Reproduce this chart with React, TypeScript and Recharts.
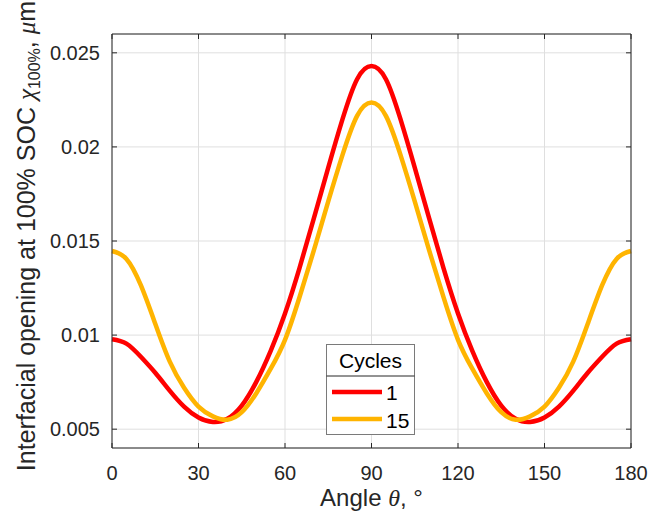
import React from 'react';
import { LineChart, Line, XAxis, YAxis, CartesianGrid, ReferenceLine } from 'recharts';

// Angle θ in degrees
const angles = [
  0, 5, 10, 15, 20, 25, 30, 35, 40, 45, 50, 55, 60, 65, 70, 75, 80, 85, 90,
  95, 100, 105, 110, 115, 120, 125, 130, 135, 140, 145, 150, 155, 160, 165, 170, 175, 180,
];

// Interfacial opening (μm) after 1 cycle
const cycle1 = [
  0.00978, 0.00955, 0.00885, 0.008, 0.00705, 0.0062, 0.00562, 0.00538, 0.00555, 0.00625,
  0.0075, 0.00915, 0.01115, 0.01355, 0.0162, 0.0189, 0.0215, 0.0236, 0.0243,
  0.0236, 0.0215, 0.0189, 0.0162, 0.01355, 0.01115, 0.00915, 0.0075, 0.00625, 0.00555,
  0.00538, 0.00562, 0.0062, 0.00705, 0.008, 0.00885, 0.00955, 0.00978,
];

// Interfacial opening (μm) after 15 cycles
const cycle15 = [
  0.01447, 0.01405, 0.01265, 0.0106, 0.0086, 0.0072, 0.0062, 0.00568, 0.0055, 0.0059,
  0.0069, 0.0082, 0.00975, 0.012, 0.0145, 0.0171, 0.0196, 0.02165, 0.02236,
  0.02165, 0.0196, 0.0171, 0.0145, 0.012, 0.00975, 0.0082, 0.0069, 0.0059, 0.0055,
  0.00568, 0.0062, 0.0072, 0.0086, 0.0106, 0.01265, 0.01405, 0.01447,
];

const xTicks = [0, 30, 60, 90, 120, 150, 180];
const yTicks = [0.005, 0.01, 0.015, 0.02, 0.025];
const xDomain = [0, 180];
const yDomain = [0.004, 0.026];

const seriesKeys = ['c1', 'c15'];
const seriesNames = ['1', '15'];
const seriesColors = ['#FF0000', '#FFB400'];
const legendTitle = 'Cycles';

const data = angles.map((a, i) => ({ angle: a, c1: cycle1[i], c15: cycle15[i] }));

const FONT = '"Liberation Sans", Arial, Helvetica, sans-serif';
const SERIF = '"Liberation Serif", "DejaVu Serif", serif';
const AXIS = '#262626';
const TICK_LEN = 5;

// Plot frame edges (chart margins + axis sizes)
const PLOT_TOP = 34;
const PLOT_RIGHT = 631;

// Bottom tick: inward tick on both the bottom and the top frame edge, plus label
const BottomTick = (props: any) => {
  const { x, y, payload } = props;
  return (
    <g>
      <line x1={x} x2={x} y1={y} y2={y - TICK_LEN} stroke={AXIS} strokeWidth={1} />
      <line x1={x} x2={x} y1={PLOT_TOP} y2={PLOT_TOP + TICK_LEN} stroke={AXIS} strokeWidth={1} />
      <text x={x} y={y + 32} textAnchor="middle" fontSize={20} fontFamily={FONT} fill={AXIS}>
        {String(payload.value)}
      </text>
    </g>
  );
};

// Left tick: inward tick on both the left and the right frame edge, plus label
const LeftTick = (props: any) => {
  const { x, y, payload } = props;
  return (
    <g>
      <line x1={x} x2={x + TICK_LEN} y1={y} y2={y} stroke={AXIS} strokeWidth={1} />
      <line x1={PLOT_RIGHT} x2={PLOT_RIGHT - TICK_LEN} y1={y} y2={y} stroke={AXIS} strokeWidth={1} />
      <text x={x - 12} y={y + 7} textAnchor="end" fontSize={20} fontFamily={FONT} fill={AXIS}>
        {String(payload.value)}
      </text>
    </g>
  );
};

const XLabel = () => (
  <text x={371.5} y={506} textAnchor="middle" fontSize={24} fontFamily={FONT} fill={AXIS}>
    Angle <tspan fontStyle="italic" fontFamily={SERIF}>θ</tspan>, °
  </text>
);

const YLabel = () => (
  <text
    transform="translate(35, 236) rotate(-90)"
    textAnchor="middle"
    fontSize={25}
    fontFamily={FONT}
    fill={AXIS}
  >
    Interfacial opening at 100% SOC{' '}
    <tspan fontStyle="italic" fontFamily={SERIF}>χ</tspan>
    <tspan fontSize={16} dy={5}>100%</tspan>
    <tspan dy={-5}>, </tspan>
    <tspan fontStyle="italic" fontFamily={SERIF}>μ</tspan>m
  </text>
);

const LegendBox = () => (
  <svg width={89} height={91} style={{ position: 'absolute', left: 326, top: 344 }}>
    <rect x={0.5} y={0.5} width={88} height={90} fill="#ffffff" stroke="#7a7a7a" strokeWidth={1} />
    <text x={44.5} y={24} textAnchor="middle" fontSize={21} fontFamily={FONT} fill="#000">
      {legendTitle}
    </text>
    <line x1={0.5} x2={88.5} y1={32} y2={32} stroke="#262626" strokeWidth={1} />
    {seriesNames.map((name, i) => (
      <g key={name}>
        <line
          x1={6}
          x2={56}
          y1={48 + i * 27}
          y2={48 + i * 27}
          stroke={seriesColors[i]}
          strokeWidth={4.5}
        />
        <text x={60} y={56 + i * 28} fontSize={21} fontFamily={FONT} fill="#000">
          {name}
        </text>
      </g>
    ))}
  </svg>
);

export default function App() {
  return (
    <div style={{ position: 'absolute', left: 0, top: 0, width: 651, height: 511, background: '#fff' }}>
      <LineChart
        width={651}
        height={511}
        data={data}
        margin={{ top: PLOT_TOP, right: 651 - PLOT_RIGHT, bottom: 0, left: 0 }}
      >
        <CartesianGrid stroke="#dfdfdf" strokeWidth={1} />
        <XAxis
          dataKey="angle"
          type="number"
          domain={xDomain}
          ticks={xTicks}
          interval={0}
          height={63}
          tickSize={0}
          tickMargin={0}
          tickLine={false}
          tick={BottomTick}
          axisLine={{ stroke: AXIS, strokeWidth: 1 }}
          label={{ content: XLabel }}
        />
        <YAxis
          type="number"
          domain={yDomain}
          ticks={yTicks}
          interval={0}
          width={112}
          tickSize={0}
          tickMargin={0}
          tickLine={false}
          tick={LeftTick}
          axisLine={{ stroke: AXIS, strokeWidth: 1 }}
          label={{ content: YLabel }}
        />
        {seriesKeys.map((k, i) => (
          <Line
            key={k}
            dataKey={k}
            name={seriesNames[i]}
            type="natural"
            stroke={seriesColors[i]}
            strokeWidth={4.5}
            dot={false}
            activeDot={false}
            isAnimationActive={false}
          />
        ))}
        {/* Frame: top and right edges of the axes box */}
        <ReferenceLine y={yDomain[1]} stroke={AXIS} strokeWidth={1} />
        <ReferenceLine x={xDomain[1]} stroke={AXIS} strokeWidth={1} />
      </LineChart>
      <LegendBox />
    </div>
  );
}
